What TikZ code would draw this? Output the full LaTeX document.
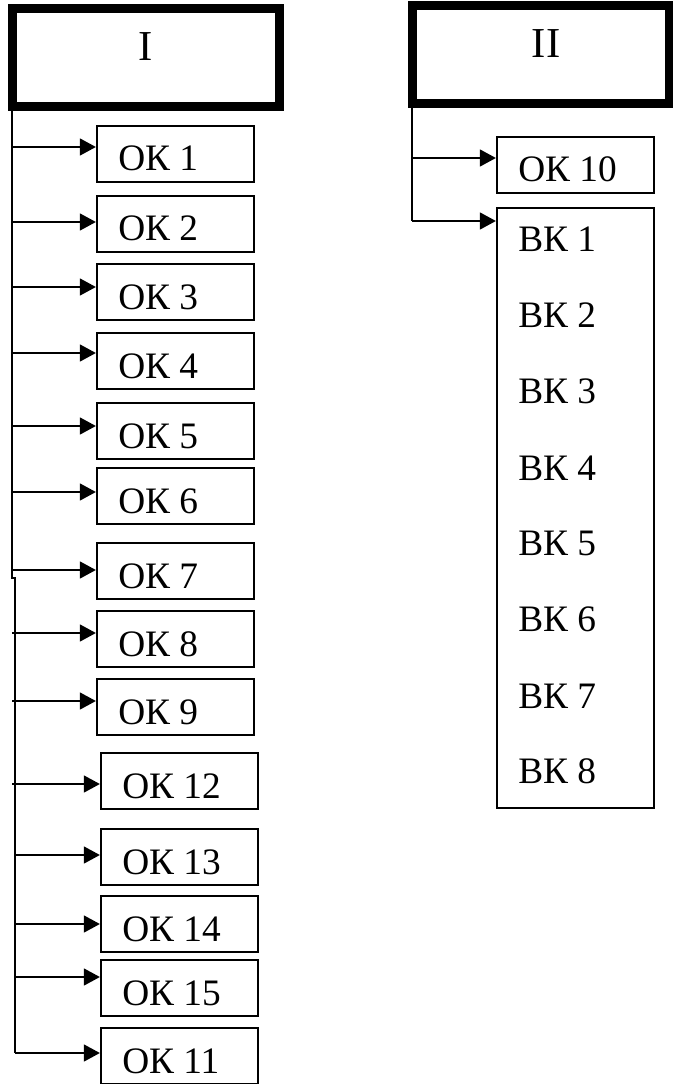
\documentclass[tikz,border=0pt]{standalone}
\usepackage{fontspec}
\setmainfont{Liberation Serif}
\usetikzlibrary{arrows.meta}
\begin{document}
\begin{tikzpicture}[x=0.75pt,y=-0.75pt,
  head/.style={draw, line width=6.75pt, anchor=north west, minimum width=200.25pt, minimum height=73.5pt, inner sep=0pt, outer sep=0pt},
  okbox/.style={draw, line width=1.7pt, anchor=north west, minimum width=117.75pt, minimum height=42pt, inner sep=0pt, outer sep=0pt},
  lbl/.style={anchor=base west, inner sep=0pt, font=\fontsize{28}{32}\selectfont},
  big/.style={anchor=base, inner sep=0pt, font=\fontsize{32}{37}\selectfont},
  trunk/.style={line width=1.5pt},
  arr/.style={line width=1.7pt, -{Triangle[length=12pt,width=12.5pt]}, shorten >=0.8pt}]
\useasboundingbox (0,0) rectangle (673,1084);
% header boxes
\node[head] (I) at (12,9) {};
\node[big] (Il) at (146,61) {I};
\node[head, minimum width=192.75pt] (II) at (412,6) {};
\node[big] (IIl) at (546,58) {II};
% column I boxes
\foreach \n/\t/\l/\s in {1/126/97/1, 2/196/97/2, 3/264/97/3, 4/333/97/4, 5/403/97/5, 6/468/97/6, 7/543/97/7, 8/611/97/8, 9/679/97/9, 12/753/101/12, 13/829/101/13, 14/896/101/14, 15/960/101/15, 11/1028/101/11}{
  \node[okbox] (ok\n) at (\l,\t) {};
  \node[lbl] (okl\n) at ([shift={(21,45)}]ok\n.north west) {ОК \s};
}
% column II
\node[okbox] (ok10) at (497,137) {};
\node[lbl] (okl10) at ([shift={(21,45)}]ok10.north west) {ОК 10};
\node[okbox, minimum height=450pt] (bk) at (497,208) {};
\foreach \k/\b in {1/252, 2/327, 3/403, 4/480, 5/555, 6/631, 7/708, 8/783}{
  \node[lbl] (bkl\k) at (518,\b) {ВК \k};
}
% trunk I
\coordinate (j1) at (12,578);
\coordinate (j2) at (15,578);
\coordinate (t11) at (15,1053);
\draw[trunk] (I.south west) -- (j1) -- (j2) -- (t11);
\foreach \n/\y/\x in {1/147/12, 2/222/12, 3/287/12, 4/353/12, 5/426/12, 6/492/12, 7/570/12, 8/633/12, 9/701/12, 12/784/12, 13/855/15, 14/924/15, 15/977/15}{
  \coordinate (t\n) at (\x,\y);
  \draw[arr] (t\n) -- (t\n -| ok\n.west);
}
\draw[arr] (t11) -- (t11 -| ok11.west);
% trunk II
\coordinate (u10) at (412,158);
\coordinate (ub) at (412,221);
\draw[trunk] (II.south west) -- (ub);
\draw[arr] (u10) -- (u10 -| ok10.west);
\draw[arr] (ub) -- (ub -| bk.west);
\end{tikzpicture}
\end{document}
